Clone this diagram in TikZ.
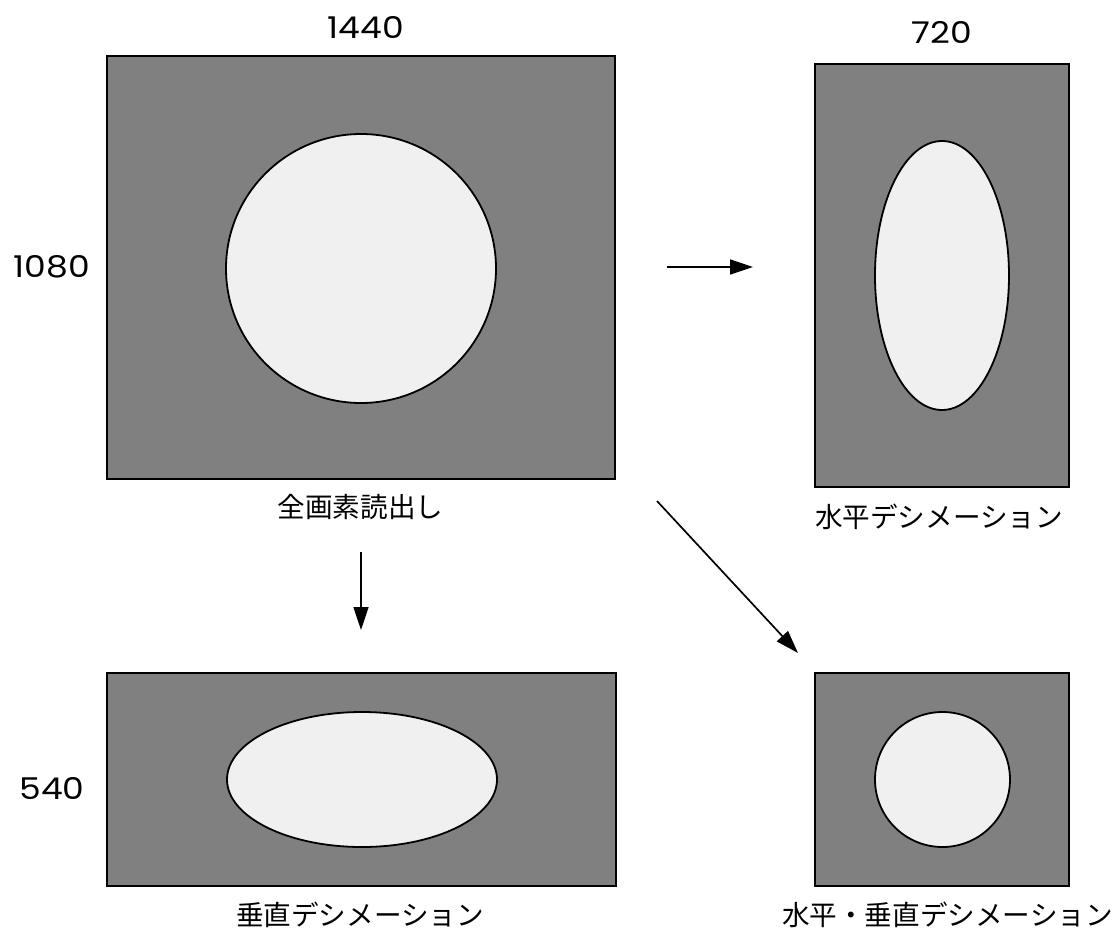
\documentclass[tikz,border=0pt]{standalone}
\usepackage{fontspec}
\setmainfont{Noto Sans CJK JP}
\newfontfamily\numfont{Poppins}[FakeStretch=1.15]
\usetikzlibrary{arrows.meta,shapes.geometric}
\definecolor{framegray}{HTML}{808080}
\definecolor{blobgray}{HTML}{F0F0F0}
\begin{document}
\begin{tikzpicture}[x=1pt,y=-1pt,
  pic/.style={rectangle,draw=black,line width=1.8pt,fill=framegray,inner sep=0pt,outer sep=0pt},
  blob/.style={ellipse,draw=black,line width=1.8pt,fill=blobgray,inner sep=0pt,outer sep=0pt},
  jlabel/.style={anchor=base,inner sep=0pt,font=\fontsize{27.6}{30}\selectfont},
  nlabel/.style={anchor=base,inner sep=0pt,font=\numfont\fontsize{30}{32}\selectfont},
  arr/.style={line width=1.7pt,-{Triangle[length=23pt,width=15pt]}}]
\useasboundingbox (0,0) rectangle (1117,930);
% full resolution
\node[pic,minimum width=508.5pt,minimum height=423pt] (fullR) at (361,267.5) {};
\node[blob,minimum width=270pt,minimum height=269pt] (fullE) at (361,268.5) {};
% horizontal decimation
\node[pic,minimum width=254pt,minimum height=423pt] (horR) at (942,275.5) {};
\node[blob,minimum width=134pt,minimum height=269pt] (horE) at (942,275.5) {};
% vertical decimation
\node[pic,minimum width=509pt,minimum height=213pt] (verR) at (361.5,779.5) {};
\node[blob,minimum width=270pt,minimum height=135pt] (verE) at (362,779.5) {};
% both
\node[pic,minimum width=254pt,minimum height=213pt] (bothR) at (942,779.5) {};
\node[blob,minimum width=135pt,minimum height=135pt] (bothE) at (942.5,779.5) {};
% numbers
\node[nlabel] (n1440) at (366,38) {1440};
\node[nlabel] (n720) at (942,43) {720};
\node[nlabel] (n1080) at (52,277) {1080};
\node[nlabel] (n540) at (52,799) {540};
% captions
\node[jlabel] (cFull) at (360.5,517) {全画素読出し};
\node[jlabel] (cHor) at (939,527) {水平デシメーション};
\node[jlabel] (cVer) at (360,925) {垂直デシメーション};
\node[jlabel] (cBoth) at (947.5,925) {水平・垂直デシメーション};
% arrows
\coordinate (a1s) at (667,267);
\coordinate (a1e) at (753,267);
\coordinate (a2s) at (361,552);
\coordinate (a2e) at (361,630);
\coordinate (a3s) at (657,501);
\coordinate (a3e) at (798,653);
\draw[arr] (a1s) -- (a1e);
\draw[arr] (a2s) -- (a2e);
\draw[arr] (a3s) -- (a3e);
\end{tikzpicture}
\end{document}
